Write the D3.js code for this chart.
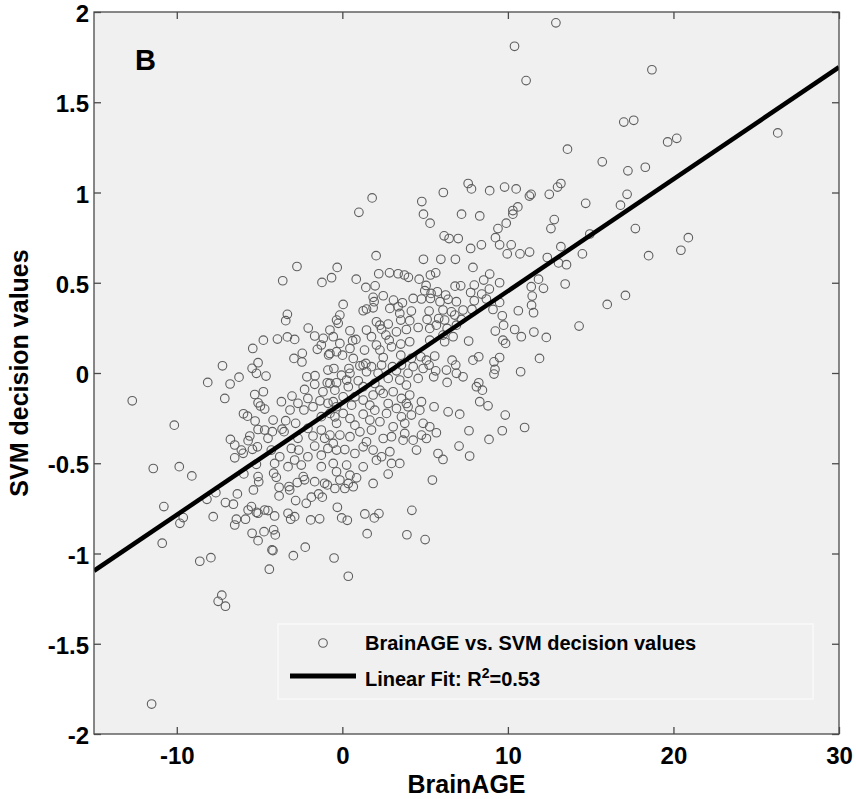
<!DOCTYPE html>
<html>
    <head>
        <title>BrainAGE vs. SVM decision values</title>
        <meta http-equiv="Content-Type" content="text/html; charset=UTF-8">
        <script src="https://d3js.org/d3.v7.min.js" charset="utf-8"></script>
        <style>
            body { margin: 0; background: #ffffff; }
            svg { display: block; font-family: "Liberation Sans", Arial, sans-serif; font-weight: bold; }
            .tick text { fill: #000; }
            .tick line { stroke: #4a4a4a; stroke-width: 1.3; }
        </style>
    </head>
    <body>
        <div id="svgcontainer"></div>
        <script>

            //-----------------------------------------------------------
            // Data: one [BrainAGE, SVM value] pair
            // per subject
            //-----------------------------------------------------------
            var subjects = [
                // upper part of the cloud
                [12.9,1.94],[10.4,1.81],[11.1,1.62],[13.6,1.24],[7.6,1.05],[7.8,1.02],[8.9,1.01],[9.8,1.03],[10.5,1.02],[11.3,0.98],
                [11.4,0.99],[12.5,0.99],[13.0,1.03],[13.2,1.05],[1.8,0.97],[1.0,0.89],[4.8,0.95],[6.1,1.00],[4.9,0.88],[5.3,0.83],
                [7.2,0.88],[8.3,0.87],[10.6,0.92],[10.3,0.90],[10.3,0.88],[9.9,0.83],[9.4,0.80],[9.25,0.75],[12.8,0.85],[12.6,0.80],
                [6.15,0.76],[6.45,0.745],[7.0,0.745],[7.75,0.69],[8.4,0.71],[9.5,0.71],[10.2,0.71],[13.2,0.70],
                // right hand outliers
                [18.7,1.68],[17.0,1.39],[17.6,1.40],[19.65,1.28],[20.2,1.30],[26.3,1.33],[15.7,1.17],[17.25,1.12],[18.3,1.14],[17.2,0.99],
                [16.8,0.93],[14.7,0.94],[14.95,0.77],[17.7,0.80],[20.9,0.75],[20.45,0.68],[18.5,0.65],[14.5,0.66],
                [16.0,0.38],[17.1,0.43],[14.3,0.26],
                // centre of the cloud
                [2.04,0.65],[4.9,0.63],[5.95,0.63],[6.83,0.63],[9.96,0.66],[10.73,0.66],[11.31,0.67],[12.38,0.64],[13.06,0.61],[13.54,0.60],
                [-0.31,0.585],[7.89,0.585],[2.2,0.55],[2.85,0.555],[3.37,0.55],[3.75,0.543],[3.99,0.53],[4.64,0.52],[5.32,0.543],[5.64,0.555],
                [-0.65,0.528],[0.84,0.52],[8.9,0.548],[8.54,0.515],[9.5,0.50],[11.85,0.52],[13.46,0.493],[1.42,0.474],[1.98,0.483],[5.06,0.485],
                [6.81,0.481],[7.15,0.483],[7.97,0.487],[4.98,0.456],[5.36,0.441],[5.74,0.45],[6.24,0.432],[8.42,0.437],[7.75,0.446],[8.88,0.465],
                [11.41,0.478],[12.15,0.469],[2.47,0.428],[1.86,0.419],[1.92,0.395],[3.09,0.404],[3.63,0.389],[4.28,0.413],[4.78,0.41],[5.32,0.413],
                [5.9,0.395],[6.39,0.408],[6.89,0.395],[7.97,0.40],[8.7,0.41],[9.5,0.391],[11.47,0.426],[11.43,0.376],[0.05,0.38],[1.46,0.354],
                [1.86,0.361],[2.87,0.358],[3.37,0.367],[-0.15,0.321],[-0.35,0.293],[-0.25,0.275],[1.26,0.345],[3.47,0.33],[4.17,0.343],[5.24,0.343],
                [6.08,0.349],[6.59,0.339],[7.29,0.349],[7.83,0.352],[10.63,0.345],[11.55,0.334],[9.66,0.317],[9.1,0.352],[2.06,0.284],[2.27,0.265],
                [2.77,0.271],[3.53,0.293],[4.07,0.29],[5.12,0.297],[5.82,0.302],[6.18,0.293],[6.79,0.321],[7.19,0.297],[-0.75,0.238],[-0.55,0.201],
                [0.46,0.234],[1.46,0.238],[2.37,0.243],[3.27,0.228],[3.87,0.241],[4.58,0.252],[5.28,0.247],[5.68,0.265],[6.33,0.247],[6.89,0.265],
                [9.24,0.232],[9.74,0.265],[10.41,0.241],[10.81,0.201],[11.57,0.227],[12.32,0.197],[1.76,0.201],[2.63,0.21],[6.08,0.21],[6.69,0.201],
                [-0.15,0.164],[0.62,0.179],[0.82,0.186],[2.06,0.155],[2.83,0.182],[3.53,0.16],[4.07,0.173],[5.28,0.182],[6.18,0.173],[7.63,0.177],
                [9.7,0.182],[9.86,0.164],[1.34,0.127],[0.46,0.136],[-0.35,0.118],[2.27,0.127],[2.97,0.145],[-0.75,0.108],[0.01,0.099],[0.66,0.081],
                [1.42,0.053],[2.47,0.086],[3.53,0.099],[4.17,0.081],[4.74,0.09],[5.58,0.094],[6.63,0.071],[7.89,0.071],[8.24,0.09],[9.16,0.062],
                [9.5,0.086],[11.91,0.081],[1.26,0.044],[5.08,0.071],[-0.51,0.025],[0.4,0.025],[1.06,0.04],[1.76,0.035],[2.37,0.044],[3.03,0.035],
                [3.57,0.044],[4.28,0.035],[4.88,0.025],[5.24,0.044],[5.64,0.012],[6.29,0.016],[6.85,0.044],[6.89,-0.002],[7.29,-0.021],[9.22,0.02],
                [9.16,-0.006],[10.77,0.007],[-0.05,-0.012],[0.46,-0.002],[1.46,0.007],[2.16,-0.002],[3.27,0.012],[3.97,-0.002],[-0.75,-0.058],[-0.35,-0.054],
                [0.26,-0.039],[0.96,-0.043],[1.96,-0.058],[2.77,-0.03],[3.47,-0.039],[3.87,-0.067],[4.58,-0.03],[5.52,-0.021],[6.33,-0.052],[8.24,-0.054],
                [8.1,-0.076],[8.46,-0.095],[-0.45,-0.095],[0.36,-0.076],[1.26,-0.076],[2.27,-0.095],[0.05,-0.132],[0.76,-0.132],[1.26,-0.15],[1.86,-0.122],
                [2.47,-0.113],[3.07,-0.104],[3.57,-0.141],[4.07,-0.122],[4.78,-0.159],[8.3,-0.159],[8.8,-0.182],[-0.55,-0.159],[0.56,-0.178],[1.66,-0.178],
                [2.77,-0.169],[3.87,-0.169],[-0.75,-0.224],[-0.35,-0.187],[0.05,-0.224],[1.26,-0.228],[1.96,-0.206],[2.67,-0.224],[3.27,-0.196],[3.97,-0.187],
                [4.68,-0.206],[5.54,-0.187],[6.39,-0.215],[7.09,-0.228],[9.84,-0.233],[-0.45,-0.243],[0.46,-0.252],[1.66,-0.261],[2.27,-0.27],[3.57,-0.243],
                [4.17,-0.233],[4.88,-0.279],[5.28,-0.298],[-0.35,-0.279],[0.76,-0.289],[3.07,-0.298],[3.77,-0.279],[11.01,-0.302],[9.66,-0.32],[7.65,-0.32],
                [-0.75,-0.344],[-0.15,-0.344],[0.46,-0.353],[1.06,-0.326],[1.76,-0.316],[2.47,-0.363],[2.97,-0.353],[3.77,-0.335],[4.28,-0.372],[4.78,-0.344],
                [5.68,-0.331],[5.08,-0.363],[8.86,-0.368],[-0.55,-0.39],[1.46,-0.381],[3.67,-0.372],[-0.35,-0.427],[0.15,-0.424],[1.26,-0.409],[1.86,-0.427],
                [2.87,-0.436],[4.48,-0.427],[5.78,-0.446],[6.08,-0.479],[7.05,-0.405],[7.69,-0.46],[0.76,-0.446],[2.37,-0.464],[-0.55,-0.501],[0.26,-0.51],
                [1.26,-0.52],[2.97,-0.501],[3.47,-0.501],[2.06,-0.483],[-0.35,-0.547],[0.46,-0.566],[-0.15,-0.593],[0.36,-0.612],[0.86,-0.581],[2.77,-0.56],
                [5.44,-0.593],[1.86,-0.612],[-0.45,-0.64],[0.15,-0.64],[0.66,-0.63],
                // left part of the cloud
                [-2.74,0.59],[-3.6,0.511],[-1.23,0.502],[-3.32,0.325],[-3.42,0.29],[-2.06,0.249],[-1.67,0.205],[-1.15,0.192],[-3.92,0.188],[-3.32,0.2],
                [-2.88,0.186],[-4.77,0.182],[-5.41,0.136],[-2.42,0.109],[-2.92,0.081],[-2.44,0.061],[-1.51,0.131],[-1.27,0.155],[-0.83,0.1],[-7.24,0.04],
                [-5.45,0.026],[-5.09,0.057],[-5.19,-0.002],[-4.61,-0.017],[-6.24,-0.023],[-6.78,-0.061],[-8.13,-0.052],[-2.14,-0.021],[-1.65,-0.015],[-0.87,0.016],
                [-0.91,-0.054],[-2.28,-0.091],[-1.67,-0.063],[-1.17,-0.104],[-5.29,-0.119],[-4.77,-0.104],[-7.1,-0.141],[-3.04,-0.128],[-3.68,-0.159],[-2.68,-0.168],
                [-2.08,-0.141],[-1.35,-0.154],[-0.87,-0.168],[-5.09,-0.165],[-4.95,-0.183],[-4.69,-0.2],[-3.16,-0.205],[-2.32,-0.205],[-1.77,-0.187],[-12.69,-0.154],
                [-5.97,-0.226],[-5.73,-0.239],[-5.27,-0.266],[-4.18,-0.261],[-3.42,-0.264],[-2.82,-0.279],[-1.27,-0.242],[-10.15,-0.289],[-5.09,-0.313],[-4.69,-0.316],
                [-4.23,-0.325],[-3.64,-0.311],[-3.52,-0.325],[-2.08,-0.307],[-1.27,-0.316],[-6.76,-0.368],[-5.59,-0.349],[-5.69,-0.375],[-4.49,-0.362],[-2.68,-0.362],
                [-1.77,-0.349],[-1.07,-0.362],[-6.5,-0.399],[-6.1,-0.427],[-5.43,-0.423],[-5.13,-0.409],[-4.29,-0.427],[-3.08,-0.418],[-2.64,-0.427],[-1.67,-0.405],
                [-0.87,-0.418],[-6.5,-0.47],[-5.99,-0.445],[-3.78,-0.464],[-2.88,-0.482],[-2.08,-0.464],[-1.27,-0.455],[-11.42,-0.529],[-9.85,-0.519],[-5.19,-0.506],
                [-4.09,-0.501],[-3.28,-0.519],[-2.48,-0.51],[-1.27,-0.519],
                // lower left part of the cloud
                [-9.09,-0.57],[-10.78,-0.74],[-9.81,-0.833],[-9.61,-0.801],[-10.88,-0.943],[-8.18,-0.7],[-7.64,-0.663],[-7.8,-0.796],[-7.06,-0.718],[-6.58,-0.727],
                [-6.34,-0.67],[-5.95,-0.559],[-5.09,-0.574],[-5.05,-0.603],[-5.37,-0.648],[-4.15,-0.555],[-3.99,-0.578],[-3.82,-0.633],[-3.82,-0.681],[-3.22,-0.629],
                [-3.18,-0.648],[-2.72,-0.607],[-2.36,-0.574],[-2.28,-0.592],[-1.67,-0.602],[-1.07,-0.611],[-0.91,-0.62],[-1.43,-0.67],[-1.21,-0.688],[-1.87,-0.688],
                [-2.18,-0.722],[-2.82,-0.707],[-3.28,-0.777],[-2.88,-0.796],[-3.12,-0.81],[-1.91,-0.814],[-1.37,-0.808],[-5.69,-0.759],[-5.49,-0.74],[-5.19,-0.772],
                [-5.09,-0.777],[-4.69,-0.759],[-4.49,-0.762],[-4.09,-0.792],[-5.85,-0.81],[-6.4,-0.81],[-6.5,-0.842],[-5.45,-0.888],[-5.09,-0.929],[-4.73,-0.879],
                [-4.15,-0.869],[-4.05,-0.897],[-4.25,-0.98],[-4.19,-0.984],[-2.96,-1.012],[-2.24,-0.965],[-4.41,-1.087],[-8.61,-1.043],[-7.94,-1.023],[-7.28,-1.231],
                [-7.5,-1.265],[-7.06,-1.292],[-11.52,-1.834],
                // lower centre
                [-0.3,-0.744],[-0.04,-0.803],[0.3,-0.816],[1.36,-0.781],[1.93,-0.803],[2.21,-0.779],[4.2,-0.761],[1.5,-0.89],[3.9,-0.896],[5.0,-0.923],
                [-0.5,-1.025],[0.36,-1.126]
            ];

            // Linear fit
            var fitIntercept = -0.166;
            var fitSlope = 0.062;
            var fitR2 = 0.53;

            // Axis ranges and tick labels
            var xDomain = [-15, 30];
            var yDomain = [-2, 2];
            var xTicks = [-10, 0, 10, 20, 30];
            var yTicks = [-2, -1.5, -1, -0.5, 0, 0.5, 1, 1.5, 2];

            var panelLabel = "B";
            var xLabel = "BrainAGE";
            var yLabel = "SVM decision values";
            var legendLabels = ["BrainAGE vs. SVM decision values", "Linear Fit: R"];

            // plain hyphen minus, no trailing zeros (as in the figure)
            var plainFormat = function (d) { return String(d); };

            //---------------------------------
            // Layout
            //---------------------------------
            var svgW = 856, svgH = 799;
            var plotLeft = 94, plotTop = 12;
            var plotW = 745, plotH = 722;
            var tickLen = 7;

            var svg = d3.select("#svgcontainer")
                .append("svg")
                .attr("width", svgW)
                .attr("height", svgH);

            var x = d3.scaleLinear().domain(xDomain).range([plotLeft, plotLeft + plotW]);
            var y = d3.scaleLinear().domain(yDomain).range([plotTop + plotH, plotTop]);

            // grey plot background
            svg.append("rect")
                .attr("x", plotLeft)
                .attr("y", plotTop)
                .attr("width", plotW)
                .attr("height", plotH)
                .attr("fill", "#f0f0f0");

            svg.append("clipPath")
                .attr("id", "plotclip")
                .append("rect")
                .attr("x", plotLeft)
                .attr("y", plotTop)
                .attr("width", plotW)
                .attr("height", plotH);

            //---------------------------------
            // Axes (ticks inside on all sides)
            //---------------------------------
            svg.append("g")
                .attr("transform", "translate(0," + (plotTop + plotH) + ")")
                .call(d3.axisBottom(x).tickValues(xTicks).tickFormat(plainFormat).tickSizeInner(-tickLen).tickSizeOuter(0).tickPadding(13))
                .call(function (g) { g.select(".domain").remove(); })
                .selectAll("text")
                .style("font-size", "24px")
                .style("font-family", "'Liberation Sans', Arial, sans-serif")
                .style("font-weight", "bold");

            svg.append("g")
                .attr("transform", "translate(0," + plotTop + ")")
                .call(d3.axisTop(x).tickValues(xTicks).tickSizeInner(-tickLen).tickSizeOuter(0).tickFormat(""))
                .call(function (g) { g.select(".domain").remove(); });

            svg.append("g")
                .attr("transform", "translate(" + plotLeft + ",0)")
                .call(d3.axisLeft(y).tickValues(yTicks).tickFormat(plainFormat).tickSizeInner(-tickLen).tickSizeOuter(0).tickPadding(5))
                .call(function (g) { g.select(".domain").remove(); })
                .selectAll("text")
                .attr("dy", "0.4em")
                .style("font-size", "24px")
                .style("font-family", "'Liberation Sans', Arial, sans-serif")
                .style("font-weight", "bold");

            svg.append("g")
                .attr("transform", "translate(" + (plotLeft + plotW) + ",0)")
                .call(d3.axisRight(y).tickValues(yTicks).tickSizeInner(-tickLen).tickSizeOuter(0).tickFormat(""))
                .call(function (g) { g.select(".domain").remove(); });

            //---------------------------------
            // Scatter points
            //---------------------------------
            svg.append("g")
                .attr("clip-path", "url(#plotclip)")
                .selectAll(".subject")
                .data(subjects)
                .enter()
                .append("circle")
                .classed("subject", true)
                .attr("cx", function (d) { return x(d[0]); })
                .attr("cy", function (d) { return y(d[1]); })
                .attr("r", 4.3)
                .attr("fill", "none")
                .attr("stroke", "#5e5e5e")
                .attr("stroke-width", 1.1);

            //---------------------------------
            // Linear fit line
            //---------------------------------
            svg.append("line")
                .attr("clip-path", "url(#plotclip)")
                .attr("x1", x(xDomain[0]))
                .attr("y1", y(fitIntercept + fitSlope * xDomain[0]))
                .attr("x2", x(xDomain[1]))
                .attr("y2", y(fitIntercept + fitSlope * xDomain[1]))
                .attr("stroke", "#000")
                .attr("stroke-width", 4.5);

            // plot frame
            svg.append("rect")
                .attr("x", plotLeft)
                .attr("y", plotTop)
                .attr("width", plotW)
                .attr("height", plotH)
                .attr("fill", "none")
                .attr("stroke", "#4a4a4a")
                .attr("stroke-width", 1.3);

            //---------------------------------
            // Legend
            //---------------------------------
            var legend = svg.append("g")
                .attr("transform", "translate(278,624)");

            legend.append("rect")
                .attr("width", 535)
                .attr("height", 75)
                .attr("fill", "#f0f0f0")
                .attr("stroke", "#f9f9f9")
                .attr("stroke-width", 1.5);

            legend.append("circle")
                .attr("cx", 45)
                .attr("cy", 19)
                .attr("r", 4.3)
                .attr("fill", "none")
                .attr("stroke", "#5e5e5e")
                .attr("stroke-width", 1.1);

            legend.append("text")
                .attr("x", 87)
                .attr("y", 26)
                .style("font-size", "20px")
                .text(legendLabels[0]);

            legend.append("line")
                .attr("x1", 12)
                .attr("x2", 78)
                .attr("y1", 52)
                .attr("y2", 52)
                .attr("stroke", "#000")
                .attr("stroke-width", 5);

            var fitText = legend.append("text")
                .attr("x", 87)
                .attr("y", 62)
                .style("font-size", "20px");
            fitText.append("tspan").text(legendLabels[1]);
            fitText.append("tspan").attr("dy", -8).style("font-size", "14px").text("2");
            fitText.append("tspan").attr("dy", 8).text("=" + fitR2.toFixed(2));

            //---------------------------------
            // Labels
            //---------------------------------
            svg.append("text")
                .attr("x", 135)
                .attr("y", 70)
                .style("font-size", "29px")
                .text(panelLabel);

            svg.append("text")
                .attr("x", plotLeft + plotW / 2)
                .attr("y", 793)
                .attr("text-anchor", "middle")
                .style("font-size", "25px")
                .text(xLabel);

            svg.append("text")
                .attr("transform", "translate(28," + (plotTop + plotH / 2) + ") rotate(-90)")
                .attr("text-anchor", "middle")
                .style("font-size", "25px")
                .text(yLabel);

        </script>
    </body>
</html>
